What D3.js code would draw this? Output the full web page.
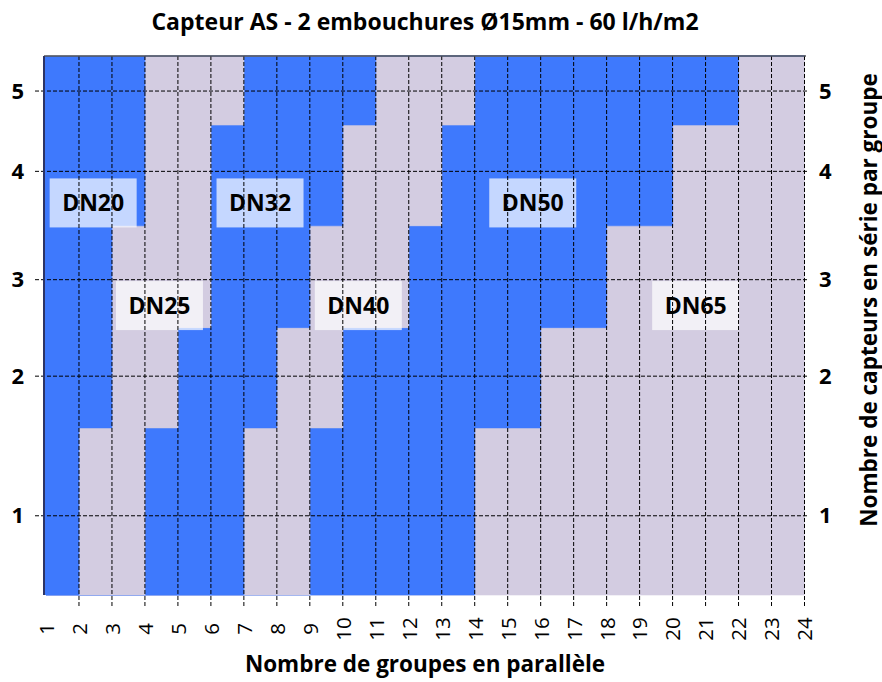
<!DOCTYPE html>
<html>
<head>
  <meta charset="utf-8">
  <title>Capteur AS - diamètres</title>
  <style>
    body { margin: 0; background: #fff; }
    svg { font-family: 'Open Sans', sans-serif; }
    .title { font-size: 23px; font-weight: bold; text-anchor: middle; }
    .axis-title { font-size: 22.5px; font-weight: bold; text-anchor: middle; }
    .dn-label { font-size: 23px; font-weight: bold; text-anchor: middle; }
  </style>
</head>
<body>
  <div id="chart"></div>

  <script src="https://d3js.org/d3.v7.min.js"></script>
  <script>
    // x: nombre de groupes en parallèle, y: capteurs en série par groupe
    const xTicks = [1, 2, 3, 4, 5, 6, 7, 8, 9, 10, 11, 12, 13, 14, 15, 16, 17, 18, 19, 20, 21, 22, 23, 24];
    const yTicks = [1, 2, 3, 4, 5];
    const columns = [1, 2, 3, 4, 5, 6, 7, 8, 9, 10, 11, 12, 13, 14, 15, 16, 17, 18, 19, 20, 21, 22, 23];

    // the y axis of the original is not evenly spaced: height (% of plot) of each level
    const levelKnots = [0.5, 1, 1.5, 2, 2.5, 3, 3.5, 4, 4.5, 5, 5.5];
    const levelHeight = [0, 14.7, 31.0, 40.6, 49.6, 58.5, 68.5, 78.6, 87.2, 93.5, 100];

    // upper boundary of each diameter band, per column (stacked from the bottom)
    const dnNames = ["DN65", "DN50", "DN40", "DN32", "DN25", "DN20"];
    const top65 = [0.5, 0.5, 0.5, 0.5, 0.5, 0.5, 0.5, 0.5, 0.5, 0.5, 0.5, 0.5, 0.5, 1.5, 1.5, 2.5, 2.5, 3.5, 3.5, 4.5, 4.5, 5.5, 5.5];
    const top50 = [0.5, 0.5, 0.5, 0.5, 0.5, 0.5, 0.5, 0.5, 1.5, 2.5, 2.5, 3.5, 4.5, 5.5, 5.5, 5.5, 5.5, 5.5, 5.5, 5.5, 5.5, 5.5, 5.5];
    const top40 = [0.5, 0.5, 0.5, 0.5, 0.5, 0.5, 1.5, 2.5, 3.5, 4.5, 5.5, 5.5, 5.5, 5.5, 5.5, 5.5, 5.5, 5.5, 5.5, 5.5, 5.5, 5.5, 5.5];
    const top32 = [0.5, 0.5, 0.5, 1.5, 2.5, 4.5, 5.5, 5.5, 5.5, 5.5, 5.5, 5.5, 5.5, 5.5, 5.5, 5.5, 5.5, 5.5, 5.5, 5.5, 5.5, 5.5, 5.5];
    const top25 = [0.5, 1.5, 3.5, 5.5, 5.5, 5.5, 5.5, 5.5, 5.5, 5.5, 5.5, 5.5, 5.5, 5.5, 5.5, 5.5, 5.5, 5.5, 5.5, 5.5, 5.5, 5.5, 5.5];
    const top20 = [5.5, 5.5, 5.5, 5.5, 5.5, 5.5, 5.5, 5.5, 5.5, 5.5, 5.5, 5.5, 5.5, 5.5, 5.5, 5.5, 5.5, 5.5, 5.5, 5.5, 5.5, 5.5, 5.5];
    const bandTops = [top65, top50, top40, top32, top25, top20];
    const bandColors = ["#d3cce1", "#3e79fd", "#d3cce1", "#3e79fd", "#d3cce1", "#3e79fd"];

    // label boxes
    const labelNames = ["DN20", "DN25", "DN32", "DN40", "DN50", "DN65"];
    const labelX = [2.43, 4.44, 7.49, 10.47, 15.76, 20.70];
    const labelLevel = [3.71, 2.73, 3.71, 2.73, 3.71, 2.73];

    const width = 882, height = 682;
    const plot = { left: 44, right: 806, top: 56, bottom: 595 };

    const svg = d3.select("#chart")
      .append("svg")
      .attr("width", width)
      .attr("height", height);

    const x = d3.scaleLinear()
      .domain([1, 24])
      .range([46, 804.5]);

    const yPct = d3.scaleLinear()
      .domain([0, 100])
      .range([plot.bottom, plot.top]);

    const y = d3.scaleLinear()
      .domain(levelKnots)
      .range(levelHeight.map(yPct));

    // Bands as step areas
    const bands = bandTops.map((tops, k) => {
      const bottoms = k === 0 ? tops.map(() => 0.5) : bandTops[k - 1];
      const pts = columns.map((c, i) => ({ c, lo: bottoms[i], hi: tops[i] }));
      const last = pts[pts.length - 1];
      pts.push({ c: last.c + 1, lo: last.lo, hi: last.hi });
      return { name: dnNames[k], color: bandColors[k], pts };
    });

    const area = d3.area()
      .curve(d3.curveStepAfter)
      .x(d => x(d.c))
      .y0(d => y(d.lo))
      .y1(d => y(d.hi));

    svg.append("g")
      .selectAll("path")
      .data(bands)
      .join("path")
      .attr("d", d => area(d.pts))
      .attr("fill", d => d.color)
      .attr("stroke", d => d.color)
      .attr("stroke-width", 0.6);

    // left strip before x=1
    svg.append("rect")
      .attr("x", plot.left)
      .attr("y", plot.top)
      .attr("width", x(1) - plot.left)
      .attr("height", plot.bottom - plot.top)
      .attr("fill", bandColors[5]);

    // Label boxes
    const labels = svg.append("g")
      .selectAll("g")
      .data(labelNames)
      .join("g")
      .attr("transform", (d, i) => `translate(${x(labelX[i])},${y(labelLevel[i])})`);

    labels.append("rect")
      .attr("x", -43.5)
      .attr("y", -24.5)
      .attr("width", 87)
      .attr("height", 49)
      .attr("fill", "#fff")
      .attr("fill-opacity", 0.7);

    labels.append("text")
      .attr("class", "dn-label")
      .attr("dy", "0.36em")
      .text(d => d);

    // Grid lines (dashed), drawn over the fills
    const grid = svg.append("g")
      .attr("stroke", "#000")
      .attr("stroke-width", 1)
      .attr("stroke-dasharray", "4,2");

    grid.selectAll("line.v")
      .data(xTicks.slice(1))
      .join("line")
      .attr("class", "v")
      .attr("x1", d => x(d))
      .attr("x2", d => x(d))
      .attr("y1", plot.top)
      .attr("y2", plot.bottom + 13);

    grid.selectAll("line.h")
      .data(yTicks)
      .join("line")
      .attr("class", "h")
      .attr("x1", plot.left - 9)
      .attr("x2", plot.right + 2)
      .attr("y1", d => y(d))
      .attr("y2", d => y(d));

    // frame: top and left edges
    svg.append("line")
      .attr("x1", plot.left).attr("x2", plot.right)
      .attr("y1", plot.top).attr("y2", plot.top)
      .attr("stroke", "#555").attr("stroke-width", 1.5);
    svg.append("line")
      .attr("x1", plot.left).attr("x2", plot.left)
      .attr("y1", plot.top).attr("y2", plot.bottom)
      .attr("stroke", "#2c3466").attr("stroke-width", 2);

    // Axes (labels only)
    const xAxis = svg.append("g")
      .attr("transform", `translate(0,${plot.bottom + 34})`)
      .call(d3.axisBottom(x).tickValues(xTicks).tickSize(0).tickPadding(0).tickFormat(d3.format("d")));
    xAxis.select(".domain").remove();
    xAxis.selectAll("text")
      .attr("y", 0)
      .attr("dy", "0.36em")
      .attr("transform", "rotate(-90)")
      .style("text-anchor", "middle")
      .attr("fill", "#000")
      .style("font-size", "20.5px")
      .style("font-family", "'Open Sans', sans-serif");

    const yLeft = svg.append("g")
      .attr("transform", `translate(${plot.left - 20},0)`)
      .call(d3.axisLeft(y).tickValues(yTicks).tickSize(0).tickPadding(0).tickFormat(d3.format("d")));
    yLeft.select(".domain").remove();
    yLeft.selectAll("text")
      .attr("fill", "#000")
      .style("font-size", "22px")
      .style("font-weight", "bold")
      .style("font-family", "'Open Sans', sans-serif");

    const yRight = svg.append("g")
      .attr("transform", `translate(${plot.right + 13},0)`)
      .call(d3.axisRight(y).tickValues(yTicks).tickSize(0).tickPadding(0).tickFormat(d3.format("d")));
    yRight.select(".domain").remove();
    yRight.selectAll("text")
      .attr("fill", "#000")
      .style("font-size", "22px")
      .style("font-weight", "bold")
      .style("font-family", "'Open Sans', sans-serif");

    // Titles
    svg.append("text")
      .attr("class", "title")
      .attr("x", (plot.left + plot.right) / 2)
      .attr("y", 30)
      .text("Capteur AS - 2 embouchures Ø15mm - 60 l/h/m2");

    svg.append("text")
      .attr("class", "axis-title")
      .attr("x", (plot.left + plot.right) / 2)
      .attr("y", 672)
      .text("Nombre de groupes en parallèle");

    svg.append("text")
      .attr("class", "axis-title")
      .attr("transform", `translate(876.5,300) rotate(-90)`)
      .text("Nombre de capteurs en série par groupe");
  </script>
</body>
</html>
